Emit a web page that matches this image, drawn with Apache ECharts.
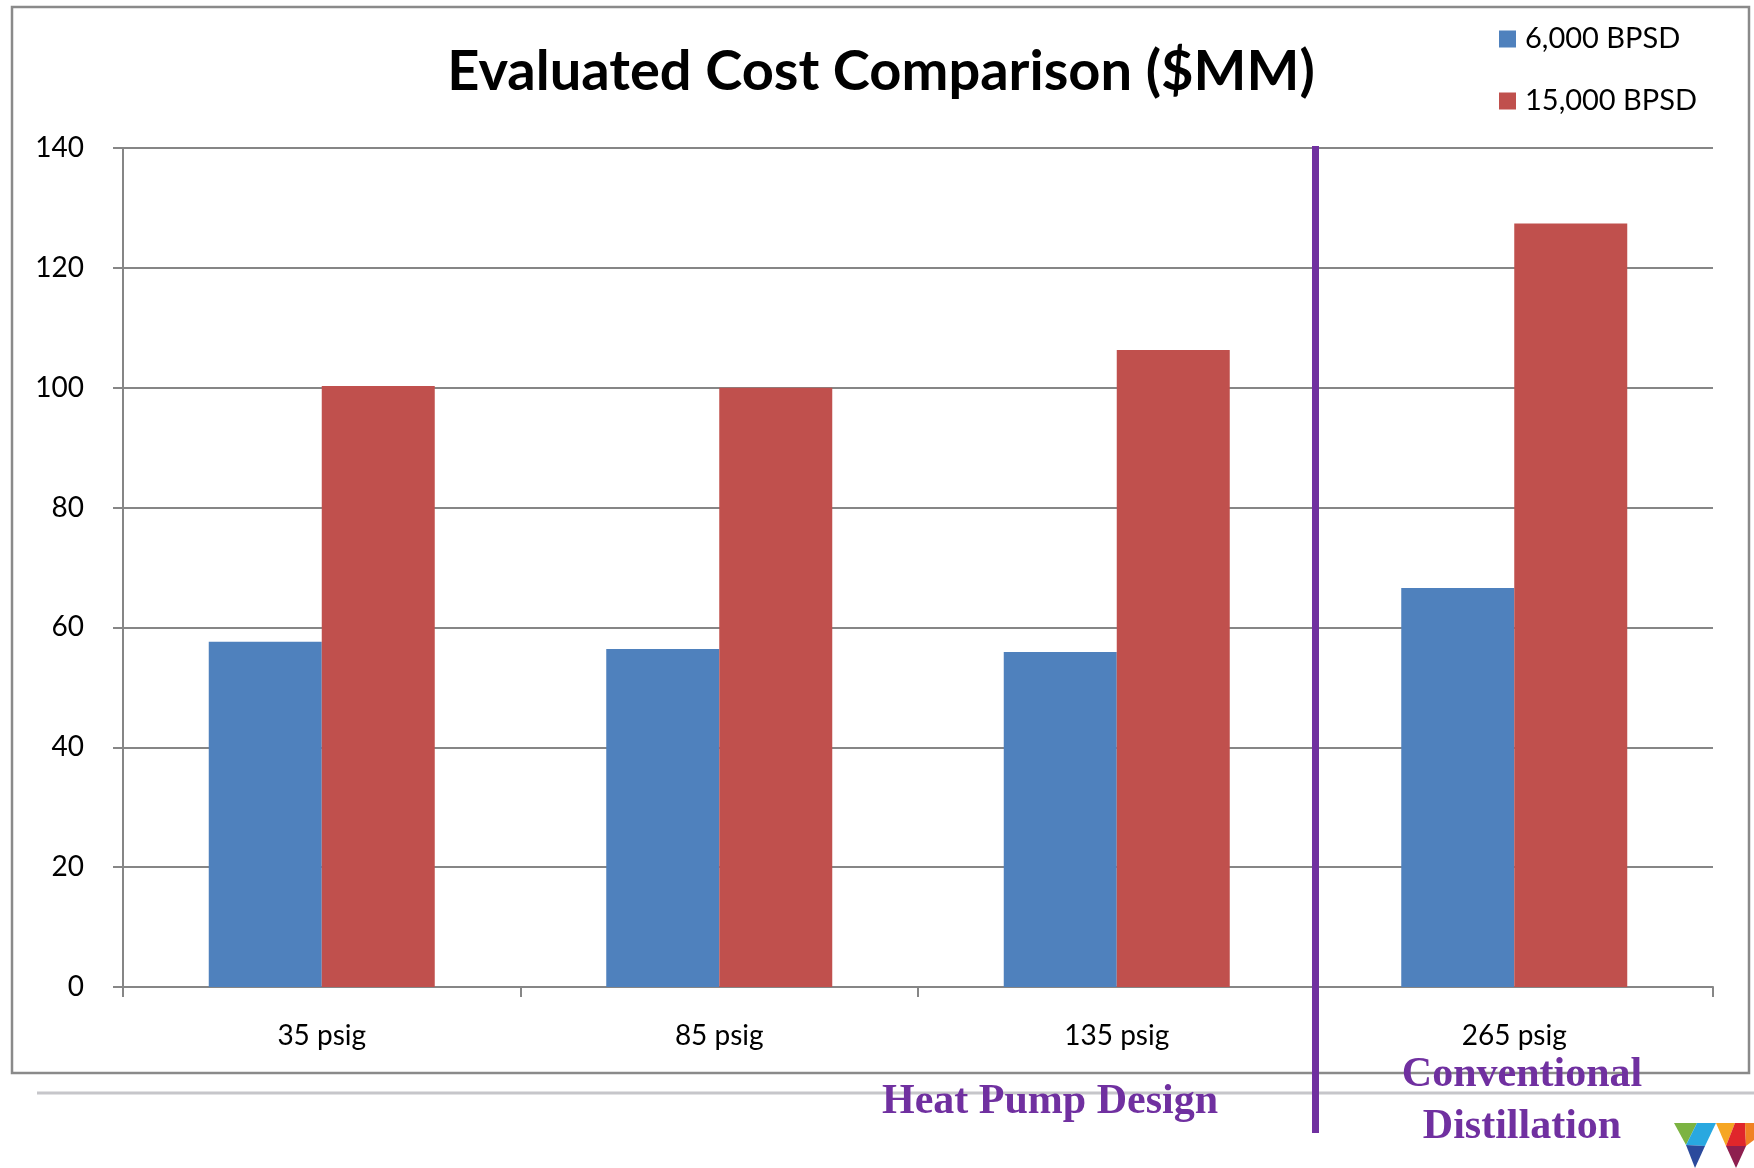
<!DOCTYPE html>
<html>
<head>
<meta charset="utf-8">
<script src="https://cdn.jsdelivr.net/npm/echarts@6/dist/echarts.min.js"></script>
<style>
html,body{margin:0;padding:0;background:#fff;}
#chart{width:1754px;height:1168px;}
</style>
</head>
<body>
<div id="chart"></div>
<script>
const categories = ['35 psig', '85 psig', '135 psig', '265 psig'];
const seriesNames = ['6,000 BPSD', '15,000 BPSD'];
const bpsd6000 = [57.6, 56.4, 55.9, 66.6];
const bpsd15000 = [100.3, 100.0, 106.3, 127.4];
const yTicks = { min: 0, max: 140, interval: 20 };
const titleText = 'Evaluated Cost Comparison ($MM)';
const groupLabels = ['Heat Pump Design', 'Conventional', 'Distillation'];

const FONT = 'Lato, "Open Sans", "Liberation Sans", sans-serif';
const SERIF = 'bold 42px "Liberation Serif", "Times New Roman", serif';
const GRID = '#868686';
const PURPLE = '#7030a0';

const chart = echarts.init(document.getElementById('chart'), null, { renderer: 'canvas' });

const option = {
  backgroundColor: '#ffffff',
  animation: false,
  textStyle: { fontFamily: FONT },
  legend: {
    orient: 'vertical',
    left: 1494,
    top: 19,
    icon: 'rect',
    itemWidth: 17,
    itemHeight: 17,
    itemGap: 32,
    selectedMode: false,
    textStyle: { fontFamily: FONT, fontSize: 29, color: '#000', lineHeight: 30, padding: [0, 0, 0, 4] },
    data: seriesNames
  },
  grid: { left: 123, right: 41, top: 148, bottom: 181, containLabel: false },
  xAxis: {
    type: 'category',
    data: categories,
    axisLine: { show: true, lineStyle: { color: GRID, width: 2 } },
    axisTick: { show: true, length: 10, alignWithLabel: false, lineStyle: { color: GRID, width: 2 } },
    axisLabel: { color: '#000', fontSize: 28, fontFamily: FONT, margin: 35 },
    splitLine: { show: false }
  },
  yAxis: {
    type: 'value',
    min: yTicks.min,
    max: yTicks.max,
    interval: yTicks.interval,
    axisLine: { show: true, lineStyle: { color: GRID, width: 2 } },
    axisTick: { show: true, length: 10, lineStyle: { color: GRID, width: 2 } },
    axisLabel: { color: '#000', fontSize: 28, fontFamily: FONT, margin: 39 },
    splitLine: { show: true, lineStyle: { color: GRID, width: 2 } }
  },
  series: [
    {
      name: seriesNames[0],
      type: 'bar',
      data: bpsd6000,
      barWidth: 113,
      barGap: '0%',
      itemStyle: { color: '#4f81bd' }
    },
    {
      name: seriesNames[1],
      type: 'bar',
      data: bpsd15000,
      barWidth: 113,
      barGap: '0%',
      itemStyle: { color: '#c0504d' }
    }
  ]
};

chart.setOption(option);

// divider between the heat-pump group and the conventional group, placed via the axis scale
const xA = chart.convertToPixel({ xAxisIndex: 0 }, categories[2]);
const xB = chart.convertToPixel({ xAxisIndex: 0 }, categories[3]);
const divX = (xA + xB) / 2;

chart.setOption({
  graphic: [
    { type: 'rect', z: 0, silent: true,
      shape: { x: 12, y: 7, width: 1737, height: 1066 },
      style: { fill: null, stroke: '#8a8a8a', lineWidth: 2.5 } },
    { type: 'line', z: 0, silent: true,
      shape: { x1: 37, y1: 1093, x2: 1754, y2: 1093 },
      style: { stroke: '#c6c6ca', lineWidth: 3 } },
    { type: 'text', z: 10, silent: true, x: 881, y: 72,
      style: { text: titleText, font: 'bold 56px ' + FONT, fill: '#000', textAlign: 'center', textVerticalAlign: 'middle' } },
    { type: 'line', z: 20, silent: true,
      shape: { x1: divX, y1: 146, x2: divX, y2: 1133 },
      style: { stroke: PURPLE, lineWidth: 7 } },
    { type: 'text', z: 20, silent: true, x: 1050, y: 1102,
      style: { text: groupLabels[0], font: SERIF, fill: PURPLE, textAlign: 'center', textVerticalAlign: 'middle' } },
    { type: 'text', z: 20, silent: true, x: 1522, y: 1075,
      style: { text: groupLabels[1], font: SERIF, fill: PURPLE, textAlign: 'center', textVerticalAlign: 'middle' } },
    { type: 'text', z: 20, silent: true, x: 1522, y: 1127,
      style: { text: groupLabels[2], font: SERIF, fill: PURPLE, textAlign: 'center', textVerticalAlign: 'middle' } },
    // logo (decorative)
    { type: 'polygon', z: 20, silent: true, shape: { points: [[1674,1123],[1697,1123],[1686,1145]] }, style: { fill: '#7cb342' } },
    { type: 'polygon', z: 20, silent: true, shape: { points: [[1697,1123],[1716,1123],[1705,1146],[1686,1145]] }, style: { fill: '#29a8e0' } },
    { type: 'polygon', z: 20, silent: true, shape: { points: [[1686,1145],[1705,1146],[1695,1168]] }, style: { fill: '#2b4a9c' } },
    { type: 'polygon', z: 20, silent: true, shape: { points: [[1716,1123],[1735,1123],[1726,1146]] }, style: { fill: '#f6a623' } },
    { type: 'polygon', z: 20, silent: true, shape: { points: [[1735,1123],[1745,1123],[1746,1146],[1726,1146]] }, style: { fill: '#e0262b' } },
    { type: 'polygon', z: 20, silent: true, shape: { points: [[1745,1123],[1754,1123],[1754,1140],[1746,1146]] }, style: { fill: '#f08223' } },
    { type: 'polygon', z: 20, silent: true, shape: { points: [[1726,1146],[1746,1146],[1736,1168]] }, style: { fill: '#8e1f4f' } }
  ]
});
</script>
</body>
</html>
